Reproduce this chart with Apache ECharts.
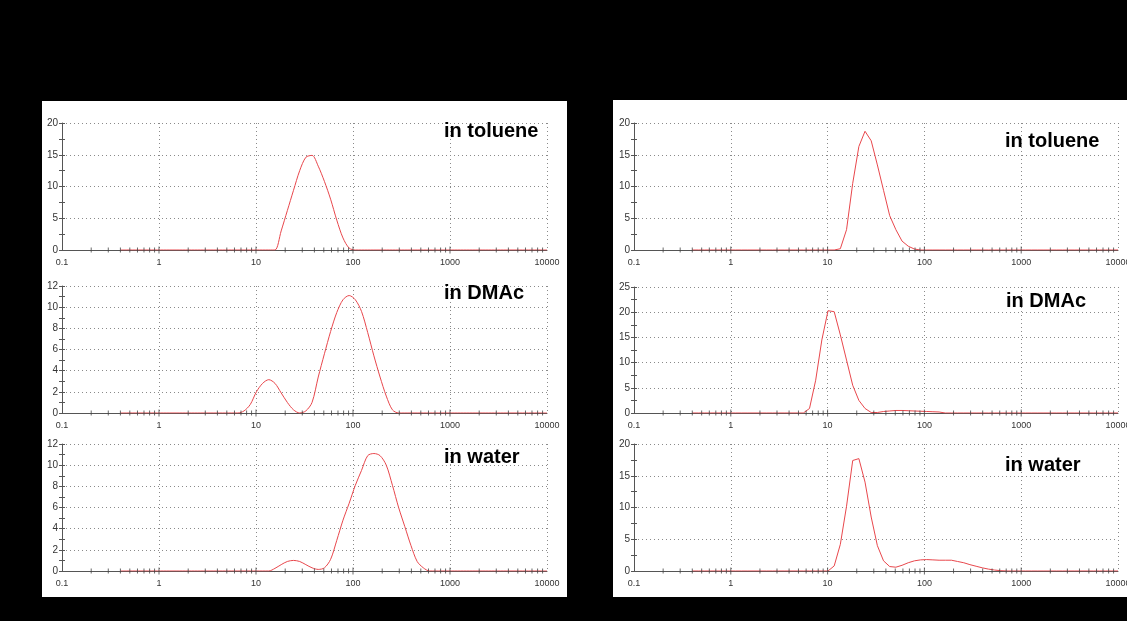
<!DOCTYPE html>
<html><head><meta charset="utf-8">
<script src="https://cdn.jsdelivr.net/npm/echarts@6/dist/echarts.min.js"></script>
<style>html,body{margin:0;padding:0;background:#000;overflow:hidden}#c{width:1127px;height:621px}</style>
</head><body><div id="c"></div>
<script>
// Size bins (nm), log-spaced
const sizes = [0.4,0.4632,0.5365,0.6213,0.7195,0.8332,0.9649,1.117,1.294,1.499,
  1.736,2.010,2.328,2.696,3.122,3.615,4.187,4.849,5.615,6.503,
  7.531,8.721,10.10,11.70,13.54,15.69,18.17,21.04,24.36,28.21,
  32.67,37.84,43.82,50.75,58.77,68.06,78.82,91.28,105.7,122.4,
  141.8,164.2,190.1,220.2,255.0,295.3,342.0,396.1,458.7,531.2,
  615.1,712.4,825.0,955.4,1106,1281,1484,1718,1990,2305,
  2669,3091,3580,4145,4801,5560,6439,7456,8635,10000];

// Left panel series
const leftToluene = [0,0,0,0,0,0,0,0,0,0, 0,0,0,0,0,0,0,0,0,0,
  0,0,0,0,0,0,3.0,6.2,9.4,12.5, 14.6,14.9,13.2,10.8,8.0,4.7,1.9,0.3,0,0,
  0,0,0,0,0,0,0,0,0,0, 0,0,0,0,0,0,0,0,0,0, 0,0,0,0,0,0,0,0,0,0];
const leftDMAc = [0,0,0,0,0,0,0,0,0,0, 0,0,0,0,0,0,0,0,0,0,
  0.2,0.8,2.0,2.8,3.15,2.8,1.9,1.0,0.3,0, 0.2,1.0,3.4,5.6,7.7,9.5,10.7,11.1,10.7,9.6,
  7.6,5.4,3.4,1.6,0.3,0,0,0,0,0, 0,0,0,0,0,0,0,0,0,0, 0,0,0,0,0,0,0,0,0,0];
const leftWater = [0,0,0,0,0,0,0,0,0,0, 0,0,0,0,0,0,0,0,0,0,
  0,0,0,0,0,0.25,0.6,0.9,1.0,0.9, 0.6,0.3,0.15,0.3,1.1,2.9,4.8,6.4,8.1,9.5,
  10.9,11.1,10.9,10.0,8.1,6.0,4.2,2.4,0.9,0.3, 0,0,0,0,0,0,0,0,0,0, 0,0,0,0,0,0,0,0,0,0];

// Right panel series
const rightToluene = [0,0,0,0,0,0,0,0,0,0, 0,0,0,0,0,0,0,0,0,0,
  0,0,0,0,0.2,3.2,10.5,16.3,18.7,17.2, 13.4,9.4,5.4,3.2,1.4,0.6,0.15,0,0,0,
  0,0,0,0,0,0,0,0,0,0, 0,0,0,0,0,0,0,0,0,0, 0,0,0,0,0,0,0,0,0,0];
const rightDMAc = [0,0,0,0,0,0,0,0,0,0, 0,0,0,0,0,0,0,0,0,0.9,
  6.5,14.5,20.3,20.1,15.5,10.5,5.5,2.5,0.9,0.1, 0.1,0.3,0.4,0.5,0.5,0.45,0.4,0.35,0.3,0.25,
  0.2,0,0,0,0,0,0,0,0,0, 0,0,0,0,0,0,0,0,0,0, 0,0,0,0,0,0,0,0,0,0];
const rightWater = [0,0,0,0,0,0,0,0,0,0, 0,0,0,0,0,0,0,0,0,0,
  0,0,0,0.8,4.2,10.2,17.4,17.7,14.0,8.5, 4.0,1.6,0.7,0.6,0.9,1.3,1.6,1.75,1.8,1.75,
  1.7,1.7,1.7,1.5,1.3,1.0,0.75,0.5,0.3,0.15, 0.05,0,0,0,0,0,0,0,0,0, 0,0,0,0,0,0,0,0,0,0];

const labels = ['in toluene','in DMAc','in water','in toluene','in DMAc','in water'];
const yMax = [20,12,12,20,25,20];
const yStep = [5,2,2,5,5,5];
const decadeTicks = [1,10,100,1000];
const minorMultipliers = [2,3,4,5,6,7,8,9];
const minorDecades = [0.1,1,10,100,1000];

const seriesValues = [leftToluene,leftDMAc,leftWater,rightToluene,rightDMAc,rightWater];

// layout
const gridBoxes = [
  {left:62, top:123, width:485, height:127},
  {left:62, top:286, width:485, height:127},
  {left:62, top:444, width:485, height:127},
  {left:634, top:123, width:484, height:127},
  {left:634, top:287, width:484, height:126},
  {left:634, top:444, width:484, height:127}
];
const labelPos = [[444,131],[444,293],[444,457],[1005,141],[1006,301],[1005,465]];

const minorTicks = [];
minorDecades.forEach(d => minorMultipliers.forEach(m => minorTicks.push(+(d*m).toPrecision(4))));

const fmt = v => String(+(+v).toPrecision(6));
const dotted = {type:[1,3], color:'#8a8a8a', width:1};
const axisFont = 'Arial, "Liberation Sans", sans-serif';

const option = {
  backgroundColor:'#000',
  animation:false,
  graphic:[
    {type:'rect', shape:{x:42,y:101,width:525,height:496}, style:{fill:'#fff'}, z:-10},
    {type:'rect', shape:{x:613,y:100,width:514,height:497}, style:{fill:'#fff'}, z:-10}
  ].concat(labels.map((t,i)=>({
    type:'text', x:labelPos[i][0], y:labelPos[i][1], z:100,
    style:{text:t, fill:'#000', font:'bold 20px "Liberation Sans", Arial, sans-serif', verticalAlign:'middle', align:'left'}
  }))),
  grid: gridBoxes.map(g=>Object.assign({containLabel:false, outerBoundsMode:'none'}, g)),
  xAxis: gridBoxes.map((g,i)=>({
    type:'log', logBase:10, gridIndex:i, min:0.1, max:10000,
    axisLine:{show:true, lineStyle:{color:'#555', width:1}},
    axisTick:{show:false},
    axisLabel:{fontSize:9, color:'#333', margin:8, formatter:fmt, fontFamily:axisFont},
    splitLine:{show:true, lineStyle:dotted}
  })),
  yAxis: gridBoxes.map((g,i)=>({
    type:'value', gridIndex:i, position:'left', min:0, max:yMax[i], interval:yStep[i],
    axisLine:{show:true, lineStyle:{color:'#555', width:1}},
    axisTick:{show:true, length:3, lineStyle:{color:'#555'}},
    minorTick:{show:true, splitNumber:2, length:3, lineStyle:{color:'#555'}},
    axisLabel:{fontSize:10, color:'#333', margin:4, fontFamily:axisFont},
    splitLine:{show:true, lineStyle:dotted}
  })).concat(gridBoxes.map((g,i)=>({
    type:'value', gridIndex:i, position:'left', offset:0, min:0, max:yMax[i], interval:yStep[i],
    axisLine:{show:false},
    axisTick:{show:true, inside:true, length:3, lineStyle:{color:'#555'}},
    minorTick:{show:true, splitNumber:2, length:3, lineStyle:{color:'#555'}},
    axisLabel:{show:false},
    splitLine:{show:false}
  }))),
  series: []
};

seriesValues.forEach((vals,i)=>{
  option.series.push({
    type:'line', xAxisIndex:i, yAxisIndex:i,
    data: sizes.map((s,k)=>[s, vals[k]]),
    showSymbol:false, smooth: i<3 ? 0.3 : false,
    lineStyle:{color:'#e8474c', width:1}, z:3
  });
  option.series.push({
    type:'scatter', xAxisIndex:i, yAxisIndex:i, silent:true,
    data: minorTicks.map(v=>[v,0]),
    symbol:'rect', symbolSize:[1,5], itemStyle:{color:'#444'}, z:4
  });
  option.series.push({
    type:'scatter', xAxisIndex:i, yAxisIndex:i, silent:true,
    data: decadeTicks.map(v=>[v,0]),
    symbol:'rect', symbolSize:[1,7], itemStyle:{color:'#444'}, z:4
  });
});

const chart = echarts.init(document.getElementById('c'), null, {renderer:'canvas'});
chart.setOption(option);
</script>
</body></html>
